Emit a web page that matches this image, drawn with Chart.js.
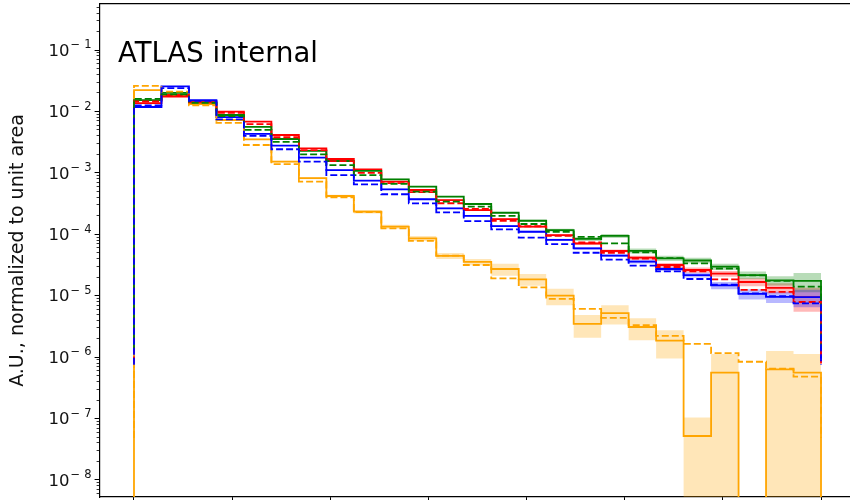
<!DOCTYPE html>
<html>
<head>
<meta charset="utf-8">
<script src="https://cdn.jsdelivr.net/npm/chart.js@4/dist/chart.umd.min.js"></script>
<style>
  html, body { margin: 0; padding: 0; background: #fff; overflow: hidden; }
  #wrap { width: 850px; height: 500px; position: relative; }
</style>
</head>
<body>
<div id="wrap"><canvas id="histChart"></canvas></div>
<script>
// bin edges (x units), 25 bins
const binEdges = [0, 14, 28, 42, 56, 70, 84, 98, 112, 126, 140, 154, 168, 182, 196,
                  210, 224, 238, 252, 266, 280, 294, 308, 322, 336, 350];
const xTicks = [0, 50, 100, 150, 200, 250, 300, 350];
const yDecades = [-8, -7, -6, -5, -4, -3, -2, -1];

// solid = nominal, dashed = variation
const redSolid = [1.37e-2, 1.75e-2, 1.42e-2, 9.9e-3, 6.8e-3, 4.13e-3, 2.51e-3, 1.68e-3, 1.14e-3, 7.2e-4,
                  5.26e-4, 3.61e-4, 2.48e-4, 1.77e-4, 1.33e-4, 9.7e-5, 7.08e-5, 5.34e-5, 4.16e-5, 3.16e-5,
                  2.62e-5, 2.28e-5, 1.67e-5, 1.34e-5, 9.5e-6];
const redDashed = [1.45e-2, 1.85e-2, 1.40e-2, 9.5e-3, 6.2e-3, 3.8e-3, 2.35e-3, 1.55e-3, 1.0e-3, 6.8e-4,
                   4.85e-4, 3.2e-4, 2.6e-4, 1.65e-4, 1.35e-4, 9.4e-5, 7.4e-5, 5.0e-5, 4.0e-5, 2.93e-5,
                   2.5e-5, 1.84e-5, 1.24e-5, 1.15e-5, 7.9e-6];
const greenSolid = [1.53e-2, 2.0e-2, 1.40e-2, 8.75e-3, 5.6e-3, 3.56e-3, 2.28e-3, 1.56e-3, 1.08e-3, 7.85e-4,
                    5.96e-4, 4.09e-4, 3.11e-4, 2.24e-4, 1.66e-4, 1.17e-4, 8.4e-5, 9.4e-5, 5.35e-5, 4.06e-5,
                    3.74e-5, 2.97e-5, 2.17e-5, 1.77e-5, 1.74e-5];
const greenDashed = [1.6e-2, 1.9e-2, 1.38e-2, 8.4e-3, 5.0e-3, 3.2e-3, 2.0e-3, 1.34e-3, 9.2e-4, 6.6e-4,
                     4.93e-4, 3.4e-4, 2.81e-4, 1.99e-4, 1.47e-4, 1.1e-4, 9.1e-5, 7.1e-5, 5.1e-5, 4.1e-5,
                     3.35e-5, 2.77e-5, 2.15e-5, 1.74e-5, 1.40e-5];
const blueSolid = [1.18e-2, 2.55e-2, 1.53e-2, 8.1e-3, 4.3e-3, 2.77e-3, 1.77e-3, 1.11e-3, 7.45e-4, 5.4e-4,
                   3.72e-4, 2.65e-4, 1.99e-4, 1.36e-4, 1.10e-4, 8.1e-5, 5.9e-5, 4.5e-5, 3.58e-5, 2.72e-5,
                   2.17e-5, 1.47e-5, 1.07e-5, 9.6e-6, 9.5e-6];
const blueDashed = [1.25e-2, 2.4e-2, 1.48e-2, 7.4e-3, 4.0e-3, 2.42e-3, 1.52e-3, 9.2e-4, 6.5e-4, 4.48e-4,
                    3.19e-4, 2.28e-4, 1.64e-4, 1.2e-4, 8.8e-5, 6.9e-5, 5.0e-5, 3.86e-5, 3.08e-5, 2.48e-5,
                    1.87e-5, 1.52e-5, 1.09e-5, 9.8e-6, 7.5e-6];
const orangeSolid = [2.23e-2, 1.85e-2, 1.32e-2, 7.25e-3, 3.5e-3, 1.52e-3, 8.2e-4, 4.2e-4, 2.33e-4, 1.33e-4,
                     8.6e-5, 4.44e-5, 3.54e-5, 2.72e-5, 1.85e-5, 1.0e-5, 3.47e-6, 5.2e-6, 3.09e-6, 1.85e-6,
                     5.2e-8, 5.6e-7, 0, 6.3e-7, 5.6e-7];
const orangeDashed = [2.6e-2, 2.1e-2, 1.25e-2, 6.5e-3, 2.84e-3, 1.39e-3, 7.2e-4, 4.0e-4, 2.3e-4, 1.25e-4,
                      7.8e-5, 4.5e-5, 3.16e-5, 1.92e-5, 1.37e-5, 8.85e-6, 6.1e-6, 4.34e-6, 3.33e-6, 2.21e-6,
                      1.64e-6, 1.16e-6, 8.4e-7, 6.5e-7, 4.8e-7];

// stat. uncertainties of the solid histograms
const redErr = [2e-4, 2e-4, 2e-4, 1e-4, 8e-5, 5e-5, 3e-5, 2.5e-5, 2e-5, 1.5e-5, 1.2e-5, 9e-6, 7e-6,
                6e-6, 5e-6, 4e-6, 3.5e-6, 3e-6, 3e-6, 2.5e-6, 2.5e-6, 2.5e-6, 2.5e-6, 2.5e-6, 4e-6];
const greenErr = [2e-4, 2e-4, 2e-4, 1e-4, 8e-5, 5e-5, 3e-5, 2.5e-5, 2e-5, 1.5e-5, 1.2e-5, 1e-5, 8e-6,
                  7e-6, 6e-6, 6e-6, 6e-6, 7e-6, 5e-6, 4e-6, 4e-6, 3.5e-6, 3e-6, 3e-6, 6e-6];
const blueErr = [2e-4, 2e-4, 2e-4, 1e-4, 6e-5, 4e-5, 2.5e-5, 2e-5, 1.5e-5, 1.2e-5, 1e-5, 8e-6, 6e-6,
                 5e-6, 4e-6, 3.5e-6, 3e-6, 2.5e-6, 2.5e-6, 2e-6, 2e-6, 2e-6, 2e-6, 2e-6, 3e-6];
const orangeErr = [3e-4, 3e-4, 2e-4, 1.5e-4, 8e-5, 5e-5, 3e-5, 2e-5, 1.5e-5, 1e-5, 8e-6, 5e-6, 4e-6,
                   6e-6, 4e-6, 3e-6, 1.4e-6, 1.8e-6, 1.2e-6, 9e-7, 5.2e-8, 5.6e-7, 0, 6.3e-7, 5.6e-7];

const yMin = 5.28e-9;
const yMax = 0.561;
const belowAxis = yMin / 10;   // empty bins fall off the log axis

const RED = '#ff0000', GREEN = '#008000', BLUE = '#0000ff', ORANGE = '#ffa500';

// outline of a step histogram, dropping at both ends like matplotlib's histtype='step'
function stepOutline(vals) {
    const positives = vals.filter(v => v > 0);
    const floor = Math.min(...positives) / 10;
    const pts = [{ x: binEdges[0], y: floor }];
    vals.forEach((v, i) => pts.push({ x: binEdges[i], y: v > 0 ? v : belowAxis }));
    pts.push({ x: binEdges[vals.length], y: vals[vals.length - 1] });
    pts.push({ x: binEdges[vals.length], y: floor });
    return pts;
}

function stepBand(vals, errs, sign) {
    const pts = vals.map((v, i) => {
        const b = v + sign * errs[i];
        return { x: binEdges[i], y: b > 0 ? b : belowAxis };
    });
    pts.push({ x: binEdges[vals.length], y: pts[pts.length - 1].y });
    return pts;
}

function withAlpha(hex, a) {
    const r = parseInt(hex.slice(1, 3), 16), g = parseInt(hex.slice(3, 5), 16), b = parseInt(hex.slice(5, 7), 16);
    return `rgba(${r}, ${g}, ${b}, ${a})`;
}

// paint order: bottom first
const paint = [];
[[orangeSolid, orangeErr, ORANGE], [redSolid, redErr, RED], [greenSolid, greenErr, GREEN], [blueSolid, blueErr, BLUE]]
    .forEach(([vals, errs, col]) => {
        const lowIdx = paint.length + 1;
        paint.push({
            data: stepBand(vals, errs, 1), stepped: 'before', borderWidth: 0, pointRadius: 0,
            backgroundColor: withAlpha(col, 0.28), fill: { target: lowIdx }
        });
        paint.push({
            data: stepBand(vals, errs, -1), stepped: 'before', borderWidth: 0, pointRadius: 0,
            backgroundColor: 'transparent', fill: false
        });
    });
[[orangeSolid, ORANGE], [redSolid, RED], [greenSolid, GREEN], [blueSolid, BLUE]].forEach(([vals, col]) => {
    paint.push({ data: stepOutline(vals), stepped: 'before', borderColor: col, borderWidth: 1.8, pointRadius: 0, fill: false });
});
[[orangeDashed, ORANGE], [redDashed, RED], [greenDashed, GREEN], [blueDashed, BLUE]].forEach(([vals, col]) => {
    paint.push({ data: stepOutline(vals), stepped: 'before', borderColor: col, borderWidth: 1.8, borderDash: [7, 3],
                 pointRadius: 0, fill: false });
});
paint.forEach((ds, i) => { ds.order = paint.length - i; });

const isMajor = v => Math.abs(Math.log10(v) - Math.round(Math.log10(v))) < 1e-6;

function logTicks() {
    const ticks = [];
    for (let k = -9; k <= 0; k++) {
        for (let m = 1; m <= 9; m++) {
            const v = m * Math.pow(10, k);
            if (v >= yMin && v <= yMax) ticks.push({ value: v, major: m === 1 });
        }
    }
    return ticks;
}

const FONT = '"DejaVu Sans", sans-serif';

// y tick labels in the 10^{-n} mathtext style
const decadeLabels = {
    id: 'decadeLabels',
    afterDraw(chart) {
        const { ctx } = chart;
        const y = chart.scales.y;
        ctx.save();
        ctx.fillStyle = '#111';
        ctx.textBaseline = 'alphabetic';
        ctx.textAlign = 'left';
        yDecades.forEach(k => {
            const py = y.getPixelForValue(Math.pow(10, k));
            const digit = String(-k);
            ctx.font = '16.5px ' + FONT;
            const wBase = ctx.measureText('10').width;
            ctx.font = '11.5px ' + FONT;
            const wMinus = ctx.measureText('\u2212').width;
            const wDigit = ctx.measureText(digit).width;
            const gap = 4;
            const x0 = 91.5 - (wBase + 1 + wMinus + gap + wDigit);
            ctx.font = '16.5px ' + FONT;
            ctx.fillText('10', x0, py + 5.8);
            ctx.font = '11.5px ' + FONT;
            ctx.fillText('\u2212', x0 + wBase + 1, py - 1.7);
            ctx.fillText(digit, x0 + wBase + 1 + wMinus + gap, py - 1.7);
        });
        ctx.restore();
    }
};

const atlasLabel = {
    id: 'atlasLabel',
    afterDatasetsDraw(chart) {
        const { ctx } = chart;
        ctx.save();
        ctx.fillStyle = '#000';
        ctx.font = '27.5px ' + FONT;
        ctx.textBaseline = 'alphabetic';
        ctx.fillText('ATLAS internal', 118, 62);
        ctx.restore();
    }
};

new Chart(document.getElementById('histChart'), {
    type: 'line',
    data: { datasets: paint },
    plugins: [decadeLabels, atlasLabel],
    options: {
        responsive: true,
        maintainAspectRatio: false,
        devicePixelRatio: 1,
        animation: false,
        layout: { padding: { top: 4, left: 0, right: 0, bottom: 0 } },
        plugins: { legend: { display: false }, tooltip: { enabled: false } },
        scales: {
            x: {
                type: 'linear',
                position: 'bottom',
                min: -17.52,
                max: 364.77,
                afterBuildTicks: s => { s.ticks = xTicks.map(v => ({ value: v })); },
                afterFit: s => { s.height = 3; },
                ticks: { display: false },
                grid: { drawOnChartArea: false, drawTicks: true, tickLength: 5, tickColor: '#000', tickWidth: 1 },
                border: { display: true, color: '#000', width: 1.2 }
            },
            xTop: {
                type: 'linear',
                position: 'top',
                min: -17.52,
                max: 364.77,
                afterBuildTicks: s => { s.ticks = []; },
                ticks: { display: false },
                grid: { drawOnChartArea: false, drawTicks: false },
                border: { display: true, color: '#000', width: 1.2 }
            },
            y: {
                type: 'logarithmic',
                min: yMin,
                max: yMax,
                afterBuildTicks: s => { s.ticks = logTicks(); },
                afterFit: s => { s.width = 99.6; },
                ticks: { display: false, autoSkip: false },
                grid: {
                    drawOnChartArea: false,
                    drawTicks: true,
                    tickLength: 5,
                    tickColor: '#000',
                    tickWidth: c => (c.tick && isMajor(c.tick.value) ? 1 : 0.8),
                    tickBorderDash: c => (c.tick && isMajor(c.tick.value) ? [] : [0, 2, 3, 50])
                },
                border: { display: true, color: '#000', width: 1.2 },
                title: {
                    display: true,
                    text: 'A.U., normalized to unit area',
                    color: '#111',
                    font: { family: 'DejaVu Sans', size: 19 },
                    padding: { top: 7, bottom: 0 }
                }
            }
        }
    }
});
</script>
</body>
</html>
